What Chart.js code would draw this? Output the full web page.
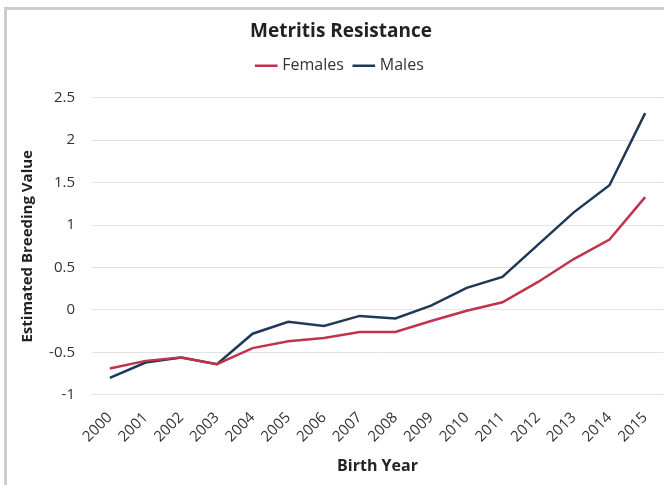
<!DOCTYPE html>
<html><head><meta charset="utf-8">
<script src="https://cdn.jsdelivr.net/npm/chart.js@4"></script>
<style>
html,body{margin:0;padding:0;background:#fff;width:664px;height:485px;overflow:hidden}
#frame{position:absolute;left:4px;top:7px;width:670px;height:490px;border-left:3px solid #cdcdcd;border-top:3px solid #cdcdcd;box-sizing:border-box}
#wrap{position:absolute;left:0;top:0;width:664px;height:485px}
</style></head><body>
<div id="frame"></div>
<div id="wrap"><canvas id="c" width="664" height="485"></canvas></div>
<script>
const years = ["2000","2001","2002","2003","2004","2005","2006","2007","2008","2009","2010","2011","2012","2013","2014","2015"];
const females = [-0.69,-0.60,-0.56,-0.64,-0.45,-0.37,-0.33,-0.26,-0.26,-0.13,-0.01,0.09,0.33,0.60,0.83,1.33];
const males = [-0.80,-0.62,-0.56,-0.64,-0.28,-0.14,-0.19,-0.07,-0.10,0.05,0.26,0.39,0.77,1.15,1.47,2.32];
const yTicks = [-1,-0.5,0,0.5,1,1.5,2,2.5];
const FONT = "'Open Sans', sans-serif";
const legendGap = {
  id:'legendGap',
  beforeInit(chart){
    const orig = chart.legend.fit;
    chart.legend.fit = function(){ orig.call(this); this.height += 14; };
  }
};
new Chart(document.getElementById('c'), {
  type: 'line',
  data: {
    labels: years,
    datasets: [
      {label:'Females', data:females, borderColor:'#C0334D', backgroundColor:'#C0334D', borderWidth:2.5, pointRadius:0, tension:0},
      {label:'Males', data:males, borderColor:'#1F3856', backgroundColor:'#1F3856', borderWidth:2.5, pointRadius:0, tension:0}
    ]
  },
  options: {
    responsive:false, animation:false,
    layout:{padding:{left:19,right:1,top:18,bottom:9}},
    plugins:{
      title:{display:true, text:'Metritis Resistance', color:'#222', font:{family:FONT, size:19, weight:'bold'}, padding:{top:2,bottom:3}},
      legend:{display:true, labels:{usePointStyle:true, pointStyle:'line', boxWidth:20, color:'#333', font:{family:FONT, size:16}, padding:12}},
      tooltip:{enabled:false}
    },
    scales:{
      x:{
        offset:true,
        grid:{display:false},
        border:{display:false},
        ticks:{color:'#333', font:{family:FONT, size:15}, maxRotation:45, minRotation:45, autoSkip:false, padding:6},
        title:{display:true, text:'Birth Year', color:'#222', font:{family:FONT, size:16, weight:'bold'}, padding:{top:5,bottom:0}}
      },
      y:{
        min:-1, max:2.5,
        afterBuildTicks:(s)=>{s.ticks = yTicks.map(v=>({value:v}));},
        afterFit:(s)=>{s.width = 73;},
        grid:{color:'#e3e3e3', drawTicks:false, lineWidth:1},
        border:{display:false},
        ticks:{color:'#333', font:{family:FONT, size:15}, padding:17, callback:(v)=>String(v)},
        title:{display:true, text:'Estimated Breeding Value', color:'#222', font:{family:FONT, size:15, weight:'bold'}, padding:{top:0,bottom:2}}
      }
    }
  },
  plugins:[legendGap]
});
</script>
</body></html>
